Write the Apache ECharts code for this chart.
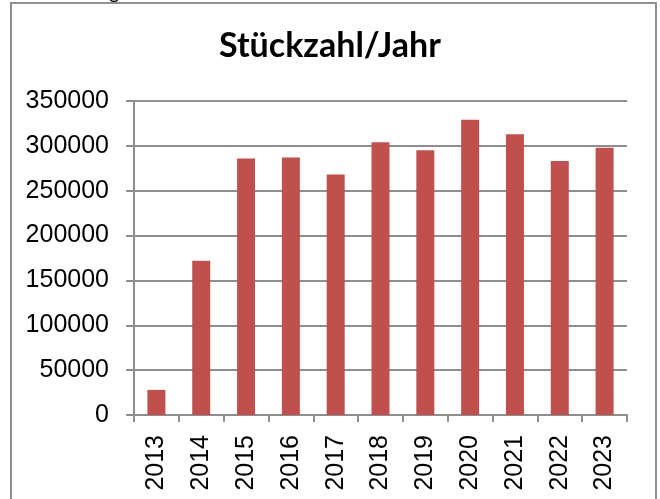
<!DOCTYPE html>
<html>
<head>
<meta charset="utf-8">
<script src="https://cdn.jsdelivr.net/npm/echarts@6/dist/echarts.min.js"></script>
<style>
  html, body { margin: 0; padding: 0; background: #fff; }
  #chart { width: 660px; height: 499px; }
</style>
</head>
<body>
<div id="chart"></div>
<script>
// Stückzahl pro Jahr
const years = ['2013', '2014', '2015', '2016', '2017', '2018', '2019', '2020', '2021', '2022', '2023']
const counts = [28000, 172000, 286000, 287000, 268000, 304000, 295000, 329000, 313000, 283000, 298000]
const yMin = 0
const yMax = 350000
const yStep = 50000

const chart = echarts.init(document.getElementById('chart'))
const gray = '#8e8e8e'
const option = {
    animation: false,
    title: {
        text: 'Stückzahl/Jahr',
        left: 'center',
        top: 24,
        textStyle: {
            fontFamily: 'Lato',
            fontWeight: 'bold',
            fontSize: 34,
            color: '#000'
        }
    },
    graphic: [
        {
            type: 'rect',
            shape: { x: 11, y: 3, width: 645, height: 520 },
            style: { fill: 'none', stroke: gray, lineWidth: 2 }
        },
        {
            // Rest der Zeile darüber, nur die Unterlänge ist sichtbar
            type: 'text',
            x: 109,
            y: 3,
            style: { text: 'g', fontSize: 20, fontFamily: 'Lato', fill: '#000', verticalAlign: 'bottom' }
        }
    ],
    grid: {
        left: 134,
        right: 33,
        top: 101,
        bottom: 84,
        containLabel: false
    },
    xAxis: {
        type: 'category',
        data: years,
        axisLine: { lineStyle: { color: gray, width: 2 } },
        axisTick: { show: true, length: 7, lineStyle: { color: gray, width: 2 } },
        axisLabel: {
            rotate: 90,
            interval: 0,
            margin: 20,
            fontFamily: 'Liberation Sans',
            fontSize: 25,
            color: '#000'
        }
    },
    yAxis: {
        type: 'value',
        min: yMin,
        max: yMax,
        interval: yStep,
        axisLine: { show: true, lineStyle: { color: gray, width: 2 } },
        axisTick: { show: true, length: 8, lineStyle: { color: gray, width: 2 } },
        splitLine: { lineStyle: { color: gray, width: 2 } },
        axisLabel: {
            margin: 25,
            fontFamily: 'Liberation Sans',
            fontSize: 25,
            color: '#000',
            formatter: v => String(v)
        }
    },
    series: [
        {
            type: 'bar',
            data: counts,
            barWidth: 18,
            itemStyle: { color: '#c0504d' }
        }
    ]
}
chart.setOption(option)
</script>
</body>
</html>
